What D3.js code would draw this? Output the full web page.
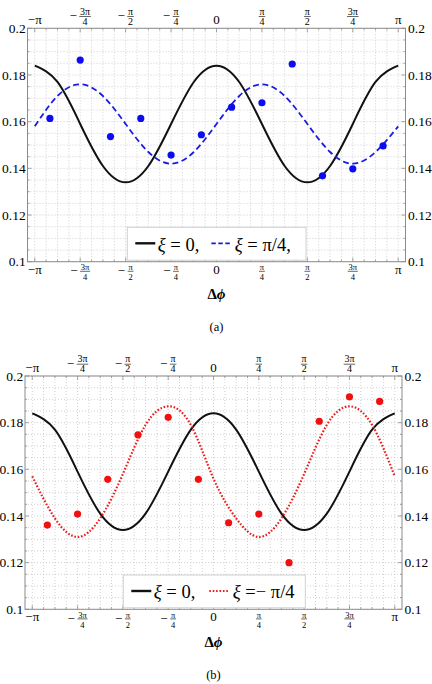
<!DOCTYPE html>
<html>
<head>
<meta charset="utf-8">
<script src="https://cdn.jsdelivr.net/npm/d3@7/dist/d3.min.js"></script>
<style>
    body { margin: 0; background: #fff; }
    svg { display: block; }
    svg text { font-family: "Liberation Serif", "DejaVu Serif", "Tinos", "Times New Roman", Times, serif !important; }
</style>
</head>
<body>
<svg id="chart" width="432" height="684"></svg>
<script>
// x positions of the measured points, in units of pi/12
const dotSteps = [-11, -9, -7, -5, -3, -1, 1, 3, 5, 7, 9, 11]
const blueDots = [0.1614, 0.1864, 0.1536, 0.1614, 0.1457, 0.1544, 0.1662, 0.1681, 0.1847, 0.1368, 0.1398, 0.1496]
const redDots = [0.1361, 0.1408, 0.1557, 0.1748, 0.1823, 0.1557, 0.1371, 0.1408, 0.1200, 0.1806, 0.1911, 0.1891]

// curve samples, x in units of pi/8
const curveSteps = [-8, -7, -6, -5, -4, -3, -2, -1, 0, 1, 2, 3, 4, 5, 6, 7, 8]
const blackCurve = [0.184, 0.177, 0.159, 0.141, 0.134, 0.141, 0.159, 0.177, 0.184, 0.177, 0.159, 0.141, 0.134, 0.141, 0.159, 0.177, 0.184]
const blueCurve = [0.158, 0.171, 0.176, 0.171, 0.159, 0.147, 0.142, 0.147, 0.159, 0.171, 0.176, 0.171, 0.159, 0.147, 0.142, 0.147, 0.158]
const redCurve = [0.157, 0.139, 0.131, 0.139, 0.158, 0.179, 0.187, 0.179, 0.156, 0.139, 0.131, 0.139, 0.158, 0.179, 0.187, 0.179, 0.157]

// ticks: x in units of pi/4
const xTicks = [-4, -3, -2, -1, 0, 1, 2, 3, 4]
const xTickLabels = ["−π", "−3π/4", "−π/2", "−π/4", "0", "π/4", "π/2", "3π/4", "π"]
const yTicks = [0.1, 0.12, 0.14, 0.16, 0.18, 0.2]
const yTickLabels = ["0.1", "0.12", "0.14", "0.16", "0.18", "0.2"]

const svg = d3.select("#chart")
const PI = Math.PI
const pad = 0.02 * 2 * PI

function fracLabel(g, label, xPos, frameY, side) {
    const top = side == "top"
    const plainBase = top ? frameY - 4 : frameY + 12
    const barY = top ? frameY - 11.8 : frameY + 9.6
    if (label.indexOf("/") < 0) {
        g.append("text")
            .attr("x", xPos).attr("y", plainBase)
            .attr("text-anchor", "middle")
            .style("font-size", "13px")
            .text(label)
        return
    }
    const sign = label[0] == "−" ? "−" : ""
    const parts = label.replace("−", "").split("/")
    const fs = top ? 10 : 8.5
    const lg = g.append("g")
    const num = lg.append("text")
        .attr("y", top ? frameY - 13.6 : frameY + 8.2)
        .attr("text-anchor", "middle")
        .style("font-size", fs + "px")
        .text(parts[0])
    const den = lg.append("text")
        .attr("y", top ? frameY - 3.6 : frameY + 18.4)
        .attr("text-anchor", "middle")
        .style("font-size", fs + "px")
        .text(parts[1])
    const w = Math.max(num.node().getComputedTextLength(), den.node().getComputedTextLength()) + 1.5
    let minusW = 0
    let minus
    if (sign) {
        minus = lg.append("text")
            .attr("y", barY + 3.6)
            .style("font-size", "13px")
            .text(sign)
        minusW = minus.node().getComputedTextLength() + 2.5
    }
    const start = xPos - (minusW + w) / 2
    if (minus) minus.attr("x", start)
    const cx = start + minusW + w / 2
    num.attr("x", cx)
    den.attr("x", cx)
    lg.append("line")
        .attr("x1", cx - w / 2).attr("x2", cx + w / 2)
        .attr("y1", barY).attr("y2", barY)
        .attr("stroke", "#000").attr("stroke-width", 0.6)
}

function drawPanel(opt) {
    const g = svg.append("g")
    const x = d3.scaleLinear()
        .domain([-PI - pad, PI + pad])
        .range([opt.left, opt.right])
    const y = d3.scaleLinear()
        .domain([0.1, 0.2])
        .range([opt.bottom, opt.top])

    // dotted grid
    const gridX = d3.range(-16, 17).map(k => k * PI / 16)
    const gridY = d3.range(0.1, 0.2001, 0.005)
    g.append("g").selectAll("line")
        .data(gridX)
        .enter().append("line")
        .attr("x1", d => x(d)).attr("x2", d => x(d))
        .attr("y1", opt.top).attr("y2", opt.bottom)
        .attr("stroke", "#c4c4c4").attr("stroke-width", 0.8)
        .attr("stroke-dasharray", "1,2")
    g.append("g").selectAll("line")
        .data(gridY)
        .enter().append("line")
        .attr("x1", opt.left).attr("x2", opt.right)
        .attr("y1", d => y(d)).attr("y2", d => y(d))
        .attr("stroke", "#c4c4c4").attr("stroke-width", 0.8)
        .attr("stroke-dasharray", "1,2")

    // frame and inward ticks
    g.append("rect")
        .attr("x", opt.left).attr("y", opt.top)
        .attr("width", opt.right - opt.left).attr("height", opt.bottom - opt.top)
        .attr("fill", "none").attr("stroke", "#8c8c8c").attr("stroke-width", 1)
    const tk = g.append("g").attr("stroke", "#8c8c8c").attr("stroke-width", 0.8)
    gridX.forEach((d, i) => {
        const len = i % 4 == 0 ? 4 : 2
        tk.append("line").attr("x1", x(d)).attr("x2", x(d)).attr("y1", opt.bottom).attr("y2", opt.bottom - len)
        tk.append("line").attr("x1", x(d)).attr("x2", x(d)).attr("y1", opt.top).attr("y2", opt.top + len)
    })
    gridY.forEach((d, i) => {
        const len = i % 4 == 0 ? 4 : 2
        tk.append("line").attr("y1", y(d)).attr("y2", y(d)).attr("x1", opt.left).attr("x2", opt.left + len)
        tk.append("line").attr("y1", y(d)).attr("y2", y(d)).attr("x1", opt.right).attr("x2", opt.right - len)
    })

    // tick labels
    xTicks.forEach((t, i) => {
        fracLabel(g, xTickLabels[i], x(t * PI / 4), opt.bottom, "bottom")
        fracLabel(g, xTickLabels[i], x(t * PI / 4), opt.top, "top")
    })
    yTicks.forEach((t, i) => {
        g.append("text")
            .attr("x", opt.left - 1.8).attr("y", y(t) + 4.6)
            .attr("text-anchor", "end")
            .style("font-size", "13.5px")
            .text(yTickLabels[i])
        g.append("text")
            .attr("x", opt.right + 2.5).attr("y", y(t) + 4.6)
            .style("font-size", "13.5px")
            .text(yTickLabels[i])
    })

    // curves
    const line = d3.line()
        .x((d, i) => x(curveSteps[i] * PI / 8))
        .y(d => y(d))
        .curve(d3.curveNatural)
    g.append("path")
        .attr("d", line(blackCurve))
        .attr("fill", "none").attr("stroke", "#111").attr("stroke-width", 2)
    g.append("path")
        .attr("d", line(opt.curve))
        .attr("fill", "none").attr("stroke", opt.color)
        .attr("stroke-width", opt.dash == "dash" ? 1.8 : 2.2)
        .attr("stroke-dasharray", opt.dash == "dash" ? "6,3.5" : "1.6,1.8")

    g.append("g").selectAll("circle")
        .data(opt.dots)
        .enter().append("circle")
        .attr("cx", (d, i) => x(dotSteps[i] * PI / 12))
        .attr("cy", d => y(d))
        .attr("r", 3.6)
        .attr("fill", opt.dotColor)

    // legend
    const lg = g.append("g")
    lg.append("rect")
        .attr("x", opt.legend.x).attr("y", opt.legend.y)
        .attr("width", opt.legend.w).attr("height", opt.bottom - 1.5 - opt.legend.y)
        .attr("fill", "#fff").attr("stroke", "#d0d0d0").attr("stroke-width", 1)
    const ly = opt.legend.y + 16
    lg.append("line")
        .attr("x1", opt.legend.x + 8).attr("x2", opt.legend.x + 28)
        .attr("y1", ly).attr("y2", ly)
        .attr("stroke", "#111").attr("stroke-width", 2.4)
    const t1 = lg.append("text")
        .attr("x", opt.legend.x + 30.5).attr("y", ly + 7.3)
        .style("font-size", "18.5px")
    t1.append("tspan").style("font-style", "italic").text("ξ")
    t1.append("tspan").text(" = 0,")
    lg.append("line")
        .attr("x1", opt.legend.x + opt.legend.s).attr("x2", opt.legend.x + opt.legend.s + 19)
        .attr("y1", ly).attr("y2", ly)
        .attr("stroke", opt.color)
        .attr("stroke-width", opt.dash == "dash" ? 1.8 : 2.2)
        .attr("stroke-dasharray", opt.dash == "dash" ? "4.5,2.5" : "1.6,1.8")
    const t2 = lg.append("text")
        .attr("x", opt.legend.x + opt.legend.s + 23.5).attr("y", ly + 7.3)
        .style("font-size", "18.5px")
    t2.append("tspan").style("font-style", "italic").text("ξ")
    t2.append("tspan").text(opt.legendText)

    // axis title and caption
    const title = g.append("text")
        .attr("x", (opt.left + opt.right) / 2).attr("y", opt.bottom + 37.5)
        .attr("text-anchor", "middle")
        .style("font-size", "15px").style("font-weight", "bold")
    title.append("tspan").text("Δ")
    title.append("tspan").style("font-style", "italic").text("ϕ")
    g.append("text")
        .attr("x", (opt.left + opt.right) / 2).attr("y", opt.bottom + 69.5)
        .attr("text-anchor", "middle")
        .style("font-size", "12.5px")
        .text(opt.caption)
}

drawPanel({
    left: 27.5, right: 405.5, top: 28.3, bottom: 261.7,
    curve: blueCurve, dots: blueDots,
    color: "#1c1ce0", dotColor: "#0c0cf2", dash: "dash",
    legend: { x: 127.3, y: 227.3, w: 178.7, s: 84 },
    legendText: " = π/4,",
    caption: "(a)"
})

drawPanel({
    left: 25, right: 402, top: 376, bottom: 609.3,
    curve: redCurve, dots: redDots,
    color: "#ec1c1c", dotColor: "#f01010", dash: "dot",
    legend: { x: 123.3, y: 575, w: 182, s: 86 },
    legendText: " =− π/4",
    caption: "(b)"
})
</script>
</body>
</html>
